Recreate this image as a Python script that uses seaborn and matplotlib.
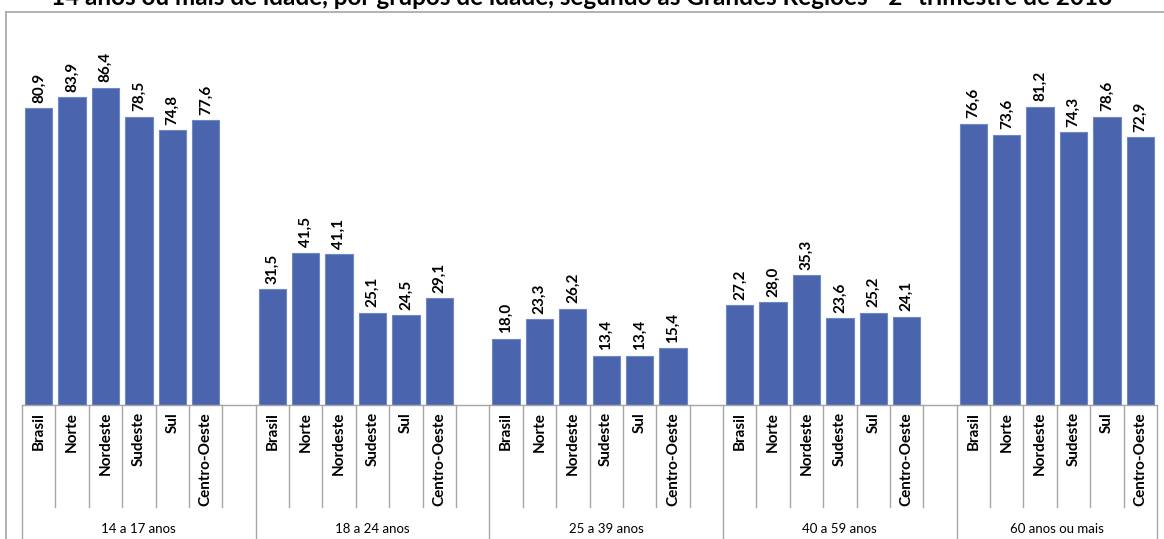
import matplotlib
matplotlib.use("Agg")
import matplotlib.pyplot as plt
import matplotlib.transforms as mtransforms
import pandas as pd
import seaborn as sns

title = ("14 anos ou mais de idade, por grupos de idade, segundo as Grandes Regiões"
         " - 2º trimestre de 2018")
regions = ["Brasil", "Norte", "Nordeste", "Sudeste", "Sul", "Centro-Oeste"]
groups = ["14 a 17 anos", "18 a 24 anos", "25 a 39 anos", "40 a 59 anos", "60 anos ou mais"]

v_14_17 = [80.9, 83.9, 86.4, 78.5, 74.8, 77.6]
v_18_24 = [31.5, 41.5, 41.1, 25.1, 24.5, 29.1]
v_25_39 = [18.0, 23.3, 26.2, 13.4, 13.4, 15.4]
v_40_59 = [27.2, 28.0, 35.3, 23.6, 25.2, 24.1]
v_60 = [76.6, 73.6, 81.2, 74.3, 78.6, 72.9]
values = [v_14_17, v_18_24, v_25_39, v_40_59, v_60]

bar_color = "#4a65ad"
line_grey = "#a6a6a6"
fam = ["Lato", "DejaVu Sans"]

# long table + an ordered category list with an empty slot after every group
rows = []
order = []
for gi, (g, vals) in enumerate(zip(groups, values)):
    for r, v in zip(regions, vals):
        key = f"{gi}|{r}"
        rows.append({"slot": key, "region": r, "group": g, "value": v})
        order.append(key)
    if gi < len(groups) - 1:
        order.append(f"{gi}|gap")
df = pd.DataFrame(rows)

W, H = 1164, 539
fig = plt.figure(figsize=(W / 100, H / 100), dpi=100)
plt.rcParams["font.family"] = fam

x0, x1, yb, yt = 22, 1157, 405, 38
ax = fig.add_axes([x0 / W, 1 - yb / H, (x1 - x0) / W, (yb - yt) / H])

sns.barplot(data=df, x="slot", y="value", order=order, color=bar_color,
            saturation=1, width=0.82, edgecolor="#6f88c6", linewidth=0.8, ax=ax)
ax.set_ylim(0, 100)
ax.set_xlim(-0.5, len(order) - 0.5)
ax.set_xlabel("")
ax.set_ylabel("")
ax.set_xticks([])
ax.set_yticks([])
for s in ["top", "right", "left"]:
    ax.spines[s].set_visible(False)
ax.spines["bottom"].set_color(line_grey)
ax.spines["bottom"].set_linewidth(1.0)

# value labels
for container in ax.containers:
    ax.bar_label(container, labels=[f"{v:.1f}".replace(".", ",") for v in container.datavalues],
                 rotation=90, padding=4, fontsize=11, fontweight="bold", family=fam)

# category and group labels below the axis
trans = mtransforms.blended_transform_factory(ax.transData, fig.transFigure)
for i, key in enumerate(order):
    lab = key.split("|")[1]
    if lab != "gap":
        fig.text(i, 1 - 412 / H, lab, transform=trans, rotation=90, ha="center",
                 va="top", fontsize=11, fontweight="bold", family=fam)

group_edges = [-0.5]
for gi in range(len(groups)):
    group_edges.append(group_edges[-1] + (7 if gi < len(groups) - 1 else 6))
for gi, g in enumerate(groups):
    cx = (group_edges[gi] + group_edges[gi + 1]) / 2
    fig.text(cx, 1 - 533 / H, g, transform=trans, ha="center", va="baseline",
             fontsize=9.5, family=fam)

# tick lines: short between slots, long at group boundaries
for i in range(len(order) + 1):
    xe = i - 0.5
    long = any(abs(xe - e) < 1e-6 for e in group_edges)
    ybot = 0 if long else 1 - 507 / H
    ax.plot([xe, xe], [1 - yb / H, ybot], transform=trans, color=line_grey,
            lw=1.0, clip_on=False)

# outer chart border (partly cropped in the original)
fig.add_artist(plt.Line2D([6 / W, 6 / W], [0, 1 - 12 / H], color=line_grey, lw=1.2))
fig.add_artist(plt.Line2D([6 / W, 1], [1 - 12 / H, 1 - 12 / H], color=line_grey, lw=1.2))

fig.text(0.5, 1 - 5 / H, title, ha="center", va="baseline", fontsize=17.5,
         fontweight="bold", family=fam)

fig.savefig("out.png", dpi=100)
